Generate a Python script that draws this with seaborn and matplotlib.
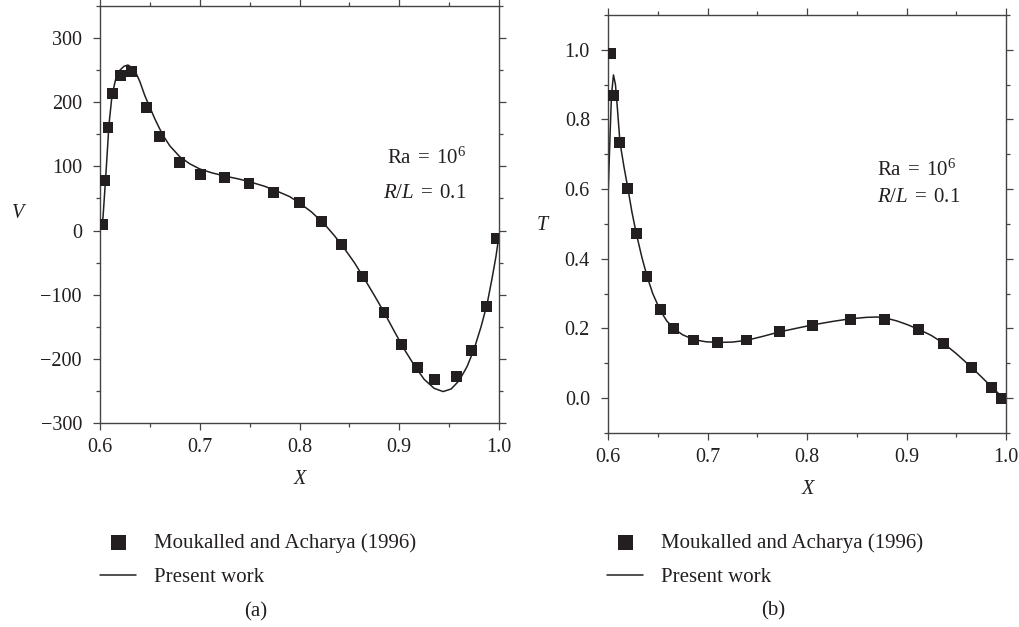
import matplotlib
matplotlib.use("Agg")
import matplotlib.pyplot as plt
import seaborn as sns
import pandas as pd
from matplotlib.ticker import MultipleLocator

# ---------------- data ----------------
# (a) velocity V
ref_a_x = [0.6027, 0.6047, 0.6080, 0.6127, 0.6210, 0.6317, 0.6468, 0.6595, 0.6795,
           0.7003, 0.7250, 0.7494, 0.7738, 0.7998, 0.8225, 0.8420, 0.8630, 0.8847,
           0.9027, 0.9180, 0.9358, 0.9572, 0.9722, 0.9870, 0.9977]
ref_a_v = [9, 78, 161, 214, 242, 248, 192, 147, 106,
           87, 82, 74, 60, 43, 14, -22, -72, -128,
           -178, -214, -232, -228, -187, -118, -13]

cur_a_x = [0.600, 0.603, 0.606, 0.609, 0.612, 0.616, 0.620, 0.624, 0.628, 0.632,
           0.636, 0.640, 0.645, 0.650, 0.655, 0.660, 0.665, 0.670, 0.680, 0.690,
           0.700, 0.712, 0.725, 0.740, 0.750, 0.765, 0.775, 0.790, 0.800, 0.812,
           0.825, 0.835, 0.845, 0.855, 0.865, 0.875, 0.885, 0.895, 0.905, 0.915,
           0.925, 0.935, 0.944, 0.952, 0.960, 0.968, 0.975, 0.982, 0.988, 0.993,
           0.997, 1.000]
cur_a_v = [0, 20, 90, 165, 210, 238, 250, 256, 258, 254,
           246, 232, 210, 192, 174, 158, 144, 132, 115, 104,
           96, 90, 85, 80, 76, 69, 63, 53, 43, 29,
           10, -8, -28, -50, -75, -101, -128, -157, -185, -210,
           -232, -246, -251, -247, -234, -212, -185, -150, -115, -75,
           -40, -8]

# (b) temperature T
ref_b_x = [0.6030, 0.6057, 0.6117, 0.6200, 0.6285, 0.6392, 0.6525, 0.6660, 0.6864,
           0.7098, 0.7392, 0.7720, 0.8052, 0.8437, 0.8778, 0.9120, 0.9370, 0.9655,
           0.9856, 0.9957]
ref_b_t = [0.990, 0.869, 0.734, 0.602, 0.473, 0.349, 0.254, 0.199, 0.167,
           0.160, 0.167, 0.191, 0.209, 0.226, 0.226, 0.197, 0.158, 0.087,
           0.030, 0.000]

cur_b_x = [0.600, 0.602, 0.6035, 0.6055, 0.6075, 0.6095, 0.612, 0.616, 0.620, 0.624,
           0.6285, 0.634, 0.6392, 0.645, 0.6525, 0.659, 0.666, 0.675, 0.6864, 0.698,
           0.7098, 0.725, 0.7392, 0.755, 0.772, 0.790, 0.8052, 0.825, 0.8437, 0.860,
           0.870, 0.8778, 0.890, 0.900, 0.912, 0.925, 0.937, 0.950, 0.9655, 0.975,
           0.9856, 0.993, 1.000]
cur_b_t = [0.57, 0.75, 0.87, 0.928, 0.90, 0.83, 0.735, 0.665, 0.602, 0.535,
           0.472, 0.405, 0.350, 0.300, 0.252, 0.222, 0.200, 0.182, 0.168, 0.162,
           0.160, 0.161, 0.166, 0.177, 0.190, 0.201, 0.210, 0.220, 0.228, 0.232,
           0.233, 0.231, 0.222, 0.212, 0.198, 0.180, 0.158, 0.128, 0.088, 0.062,
           0.032, 0.012, 0.000]

ref_label = "Moukalled and Acharya (1996)"
cur_label = "Present work"
captions = ["(a)", "(b)"]

# ---------------- style ----------------
sns.set_style("ticks")
plt.rcParams["font.family"] = ["Liberation Serif", "DejaVu Serif"]
plt.rcParams["mathtext.fontset"] = "custom"
plt.rcParams["mathtext.rm"] = "Liberation Serif"
plt.rcParams["mathtext.it"] = "Liberation Serif:italic"
plt.rcParams["axes.unicode_minus"] = True

INK = "#231f20"
SPINE = "#444444"
FS = 14.5
FS_LEG = 15

fig = plt.figure(figsize=(10.19, 6.27), dpi=100)
W, H = 1019, 627

def add_axes(l, r, t, b):
    return fig.add_axes([l / W, 1 - b / H, (r - l) / W, (b - t) / H])

ax1 = add_axes(100, 499, 6, 423)
ax2 = add_axes(608, 1006, 15, 433)

df_ref_a = pd.DataFrame({"X": ref_a_x, "V": ref_a_v})
df_cur_a = pd.DataFrame({"X": cur_a_x, "V": cur_a_v})
df_ref_b = pd.DataFrame({"X": ref_b_x, "T": ref_b_t})
df_cur_b = pd.DataFrame({"X": cur_b_x, "T": cur_b_t})

for ax, dref, dcur, ycol in [(ax1, df_ref_a, df_cur_a, "V"), (ax2, df_ref_b, df_cur_b, "T")]:
    sns.lineplot(data=dcur, x="X", y=ycol, ax=ax, color=INK, lw=1.1,
                 estimator=None, sort=False, label=cur_label, zorder=2)
    sns.scatterplot(data=dref, x="X", y=ycol, ax=ax, marker="s", s=62, color=INK,
                    edgecolor="none", linewidth=0, label=ref_label, zorder=3)

# axes limits and ticks
ax1.set_xlim(0.6, 1.0)
ax1.set_ylim(-300, 350)
ax1.xaxis.set_major_locator(MultipleLocator(0.1))
ax1.xaxis.set_minor_locator(MultipleLocator(0.05))
ax1.yaxis.set_major_locator(MultipleLocator(100))
ax1.yaxis.set_minor_locator(MultipleLocator(50))

ax2.set_xlim(0.6, 1.0)
ax2.set_ylim(-0.1, 1.1)
ax2.xaxis.set_major_locator(MultipleLocator(0.1))
ax2.xaxis.set_minor_locator(MultipleLocator(0.05))
ax2.yaxis.set_minor_locator(MultipleLocator(0.1))
ax2.set_yticks([0.0, 0.2, 0.4, 0.6, 0.8, 1.0])

for ax in (ax1, ax2):
    for sp in ax.spines.values():
        sp.set_visible(True)
        sp.set_color(SPINE)
        sp.set_linewidth(1.0)
    ax.tick_params(which="both", direction="out", top=True, right=True,
                   color=SPINE, width=0.9, labelsize=FS, labelcolor=INK)
    ax.tick_params(which="major", length=5, pad=6)
    ax.tick_params(which="minor", length=3)
    ax.grid(False)
ax1.tick_params(axis="y", which="major", pad=8)
ax2.tick_params(axis="y", which="major", pad=8)

# axis labels
ax1.set_xlabel("X", fontsize=FS, fontstyle="italic", color=INK, va="center")
ax1.xaxis.set_label_coords((300 - 100) / 399, (423 - 480) / 417)
ax1.set_ylabel("V", fontsize=FS, fontstyle="italic", color=INK, rotation=0,
               va="center", ha="center")
ax1.yaxis.set_label_coords((18 - 100) / 399, (423 - 213) / 417)

ax2.set_xlabel("X", fontsize=FS, fontstyle="italic", color=INK, va="center")
ax2.xaxis.set_label_coords((808 - 608) / 398, (433 - 490) / 418)
ax2.set_ylabel("T", fontsize=FS, fontstyle="italic", color=INK, rotation=0,
               va="center", ha="center")
ax2.yaxis.set_label_coords((542 - 608) / 398, (433 - 225) / 418)

# annotations
ra_txt = r"$\mathrm{Ra}\;=\;10^{6}$"
rl_txt = r"$R/L\;=\;0.1$"
ax1.text((466 - 100) / 399, (423 - 158) / 417, ra_txt, transform=ax1.transAxes,
         ha="right", va="center", fontsize=FS_LEG, color=INK)
ax1.text((466 - 100) / 399, (423 - 193) / 417, rl_txt, transform=ax1.transAxes,
         ha="right", va="center", fontsize=FS_LEG, color=INK)
ax2.text((877 - 608) / 398, (433 - 170) / 418, ra_txt, transform=ax2.transAxes,
         ha="left", va="center", fontsize=FS_LEG, color=INK)
ax2.text((877 - 608) / 398, (433 - 197) / 418, rl_txt, transform=ax2.transAxes,
         ha="left", va="center", fontsize=FS_LEG, color=INK)

# legends below each panel
for ax, lx in [(ax1, 100), (ax2, 607)]:
    handles, labels = ax.get_legend_handles_labels()
    order = [labels.index(ref_label), labels.index(cur_label)]
    ax.legend([handles[i] for i in order], [labels[i] for i in order],
              loc="upper left", bbox_to_anchor=(lx / W, 1 - 533 / H),
              bbox_transform=fig.transFigure, frameon=False, fontsize=FS_LEG,
              borderaxespad=0, borderpad=0, handlelength=1.75, handletextpad=0.85,
              labelspacing=0.72, scatterpoints=1, markerscale=1.35, labelcolor=INK)

# captions
fig.text(256 / W, 1 - 612 / H, captions[0], ha="center", va="center", fontsize=FS_LEG, color=INK)
fig.text(773 / W, 1 - 611 / H, captions[1], ha="center", va="center", fontsize=FS_LEG, color=INK)

fig.savefig("out.png", dpi=100)
